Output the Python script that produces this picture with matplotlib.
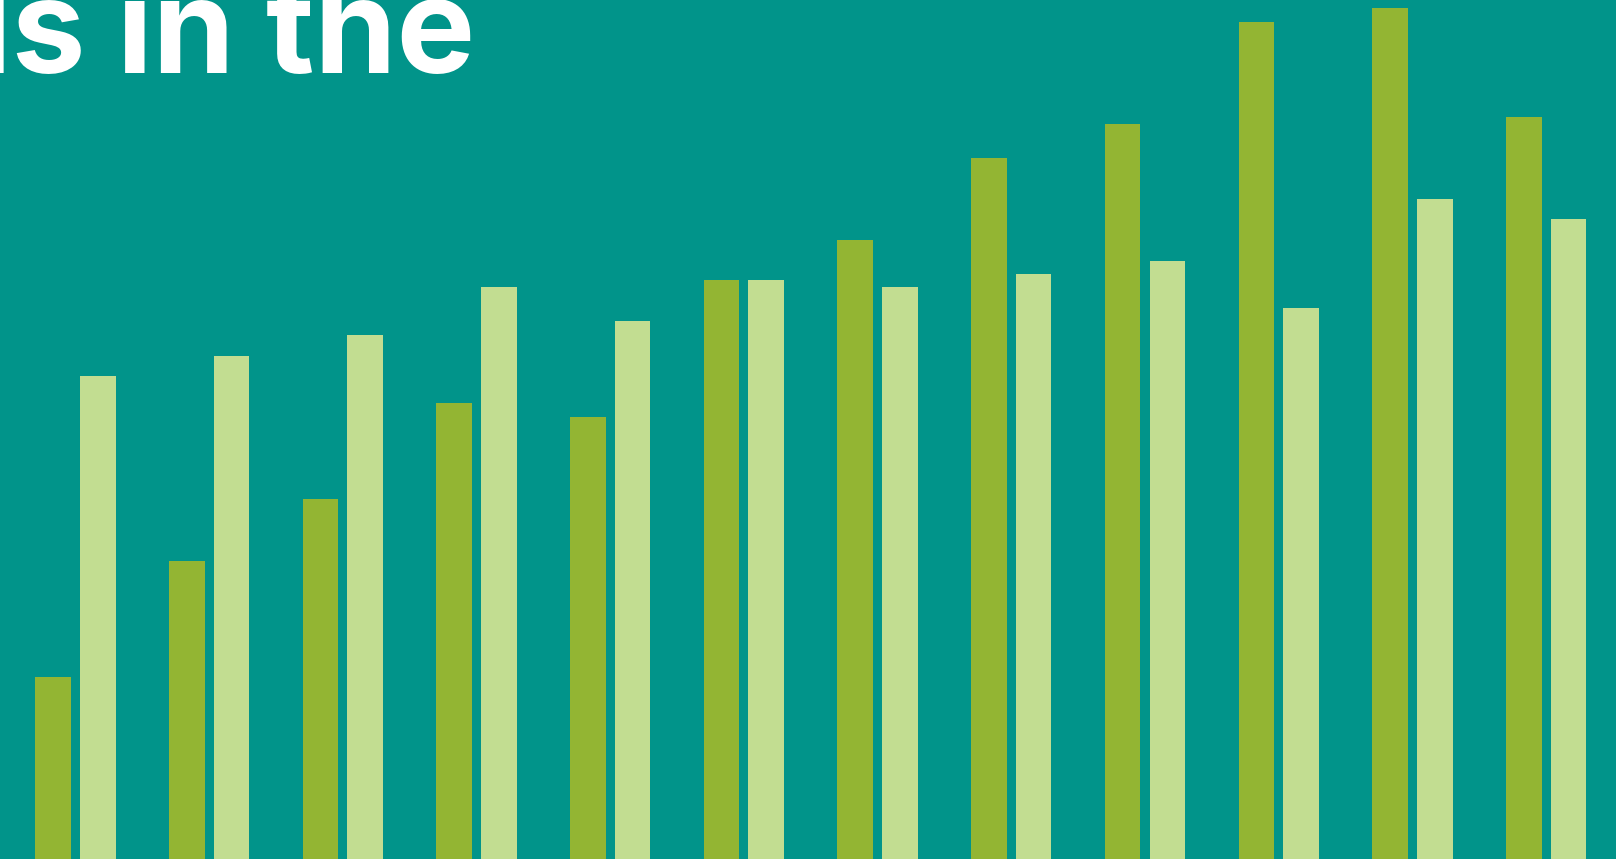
import numpy as np
import matplotlib.pyplot as plt

# bar heights (plot units, axis runs 0..859)
groups = list(range(12))
dark_vals = [182, 298, 360, 456, 442, 579, 619, 701, 735, 837, 851, 742]
light_vals = [483, 503, 524, 572, 538, 579, 572, 585, 598, 551, 660, 640]
title_part = "ls in the"

bg = "#01948A"
dark = "#93B533"
light = "#C2DD91"

fig = plt.figure(figsize=(16.16, 8.59), dpi=100, facecolor=bg)
ax = fig.add_axes([0, 0, 1, 1], facecolor=bg)

x = np.arange(len(groups))
w = 0.266
ax.bar(x, dark_vals, width=w, color=dark, align="edge")
ax.bar(x + 0.334, light_vals, width=w, color=light, align="edge")

# first dark bar edge at 35.3 px, group pitch 133.7 px
pitch = 133.7
x0 = -35.3 / pitch
ax.set_xlim(x0, x0 + 1616 / pitch)
ax.set_ylim(0, 859)
ax.axis("off")

fig.text(475 / 1616, (859 - 73) / 859, title_part, color="white",
         fontsize=95, fontweight="bold", family="Inter",
         ha="right", va="baseline")

fig.savefig("out.png", dpi=100, facecolor=bg)
